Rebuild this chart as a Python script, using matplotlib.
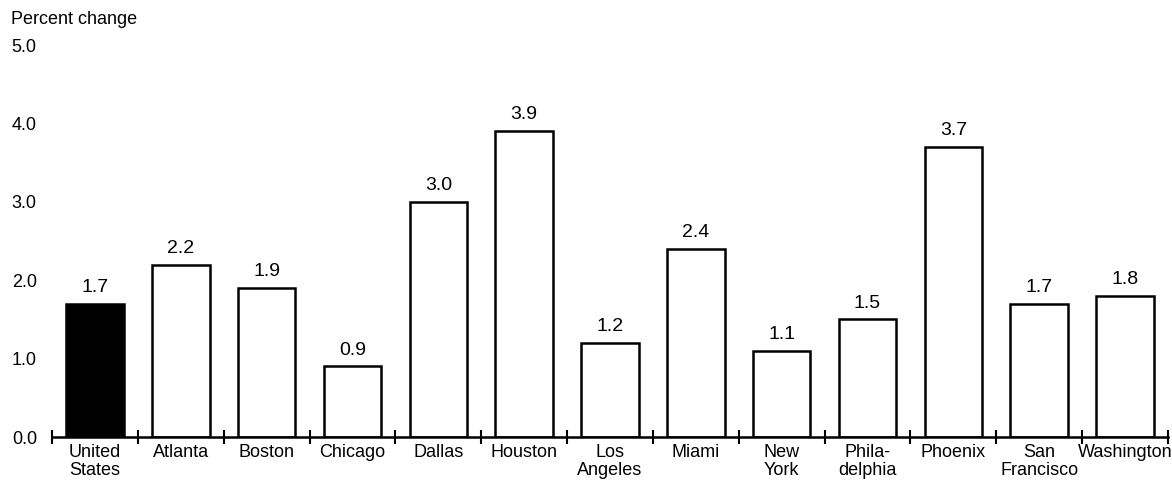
import matplotlib.pyplot as plt
import numpy as np

cities = ["United\nStates", "Atlanta", "Boston", "Chicago", "Dallas", "Houston",
          "Los\nAngeles", "Miami", "New\nYork", "Phila-\ndelphia", "Phoenix",
          "San\nFrancisco", "Washington"]
change = [1.7, 2.2, 1.9, 0.9, 3.0, 3.9, 1.2, 2.4, 1.1, 1.5, 3.7, 1.7, 1.8]

plt.rcParams['font.family'] = ['Liberation Sans', 'DejaVu Sans']

fig = plt.figure(figsize=(11.72, 4.83), dpi=100)
ax = fig.add_axes([0.0444, 0.0952, 0.9522, 0.8116])

x = np.arange(len(cities))
colors = ["black"] + ["white"] * (len(cities) - 1)
ax.bar(x, change, width=0.67, color=colors, edgecolor="black", linewidth=1.8)

# value labels over each bar
for xi, v in zip(x, change):
    ax.text(xi, v + 0.1, f"{v:.1f}", ha="center", va="bottom", fontsize=14)

ax.set_xlim(-0.5, len(cities) - 0.5)
ax.set_ylim(0, 5.0)

ax.set_xticks(x)
ax.set_xticklabels(cities, fontsize=13, linespacing=1.05)
ax.set_xticks(np.arange(-0.5, len(cities)), minor=True)
ax.tick_params(axis="x", which="major", length=0, pad=5)
ax.tick_params(axis="x", which="minor", length=10, width=1.5, direction="inout")

ax.set_yticks(np.arange(0, 5.1, 1.0))
ax.set_yticklabels([f"{t:.1f}" for t in np.arange(0, 5.1, 1.0)], fontsize=13,
                   ha="left")
ax.tick_params(axis="y", length=0, pad=29)

for s in ["top", "right", "left"]:
    ax.spines[s].set_visible(False)
ax.spines["bottom"].set_linewidth(1.8)

fig.text(0.009, 0.96, "Percent change", fontsize=13, va="center", ha="left")

fig.savefig("out.png", dpi=100)
